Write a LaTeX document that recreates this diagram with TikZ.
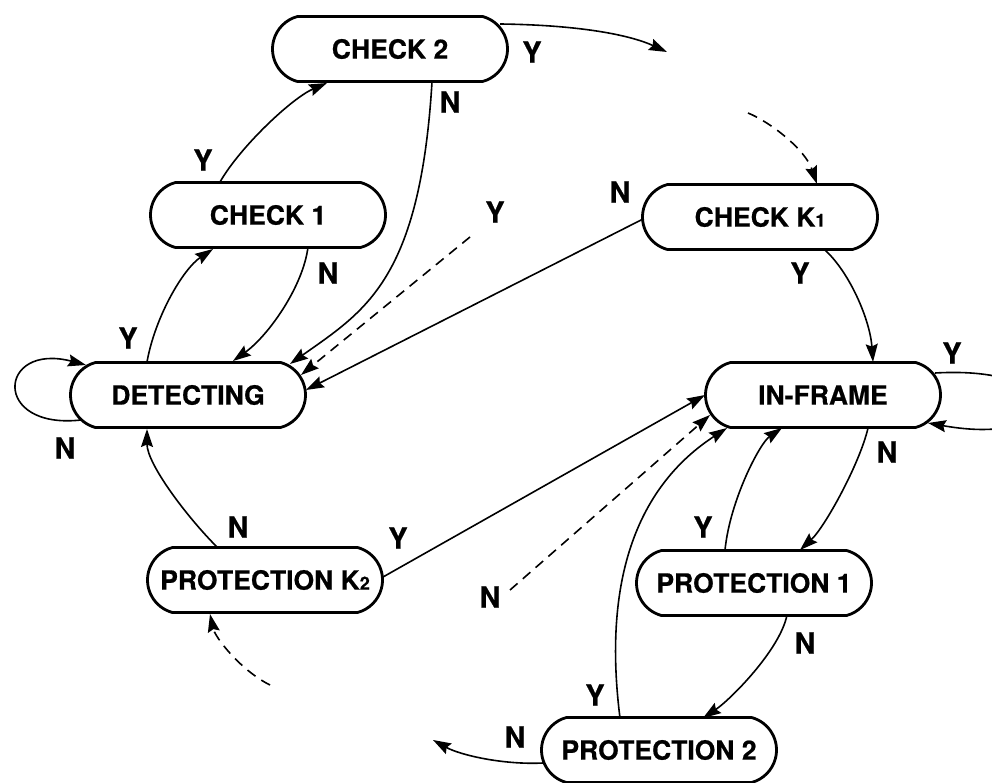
\documentclass[tikz,border=0pt]{standalone}
\usepackage{fontspec}
\setmainfont{TeX Gyre Heros}[BoldFeatures={FakeBold=0.6}]
\usetikzlibrary{shapes.misc,arrows.meta,calc}
\newcommand\smalldig[1]{{\fontsize{18}{18}\selectfont #1}}
\begin{document}
\begin{tikzpicture}[x=1pt,y=-1pt,
  state/.style={rounded rectangle, rounded rectangle arc length=150, draw, line width=2.8pt,
    minimum width=235pt, minimum height=65pt, inner sep=0pt,
    font=\fontsize{26.5}{30}\selectfont\bfseries},
  lab/.style={font=\fontsize{29}{32}\selectfont\bfseries, inner sep=0pt},
  edge/.style={line width=1.6pt, -{Stealth[length=18pt,width=12pt,inset=2.5pt]}},
  dsh/.style={edge, dash pattern=on 10pt off 7pt}]
\useasboundingbox (0,0) rectangle (992,783);
\clip (0,0) rectangle (992,783);

% states
\node[state] (c2)  at (390,49)  {CHECK 2};
\node[state] (c1)  at (268,215) {CHECK 1};
\node[state] (det) at (188,395) {DETECTING};
\node[state] (ck1) at (760,217) {CHECK K\smalldig{1}};
\node[state] (inf) at (823,395) {IN-FRAME};
\node[state] (pk2) at (265,580) {PROTECTION K\smalldig{2}};
\node[state] (p1)  at (754,583) {PROTECTION 1};
\node[state] (p2)  at (659,750) {PROTECTION 2};

% free ends
\coordinate (o1) at (667,52);
\coordinate (d1) at (748,113);
\coordinate (d2) at (470,237);
\coordinate (d3) at (270,685);
\coordinate (d4) at (510,590);
\coordinate (o2) at (433,740);

% connectors
\draw[edge] ($(c1)+(-48,-33)$) .. controls +(20,-35) and +(-35,15) .. ($(c2)+(-63,34)$);
\draw[edge] ($(c2)+(42,33)$) .. controls +(-12,198) and +(75,-53) .. ($(det)+(102,-31)$);
\draw[edge] ($(c2)+(110,-25)$) .. controls +(80,1) and +(-37,-17) .. (o1);
\draw[dsh] (d1) .. controls +(22,9) and +(-12,-35) .. ($(ck1)+(57,-33)$);
\draw[edge] ($(c1)+(40,32)$) .. controls +(-5,40) and +(35,-25) .. ($(det)+(45,-34)$);
\draw[edge] ($(det)+(-41,-33)$) .. controls +(8,-45) and +(-30,20) .. ($(c1)+(-55,34)$);
\draw[dsh] (d2) -- ($(det)+(113,-20)$);
\draw[edge] ($(ck1)+(-117,2)$) -- ($(det)+(118,-5)$);
\draw[edge] ($(det)+(-107,25)$) .. controls +(-90,10) and +(-88,-23) .. ($(det)+(-102,-30)$);
\draw[edge] ($(pk2)+(-48,-33)$) .. controls +(-30,-30) and +(0,35) .. ($(det)+(-41,34)$);
\draw[dsh] (d3) .. controls +(-30,-15) and +(5,23) .. ($(pk2)+(-55,34)$);
\draw[edge] ($(pk2)+(118,-3)$) -- ($(inf)+(-118,0)$);
\draw[dsh] (d4) -- ($(inf)+(-113,20)$);
\draw[edge] ($(ck1)+(65,33)$) .. controls +(25,23) and +(-3,-42) .. ($(inf)+(50,-33)$);
\draw[edge] ($(inf)+(112,-22)$) .. controls +(140,-8) and +(140,25) .. ($(inf)+(105,28)$);
\draw[edge] ($(inf)+(45,33)$) .. controls +(-8,35) and +(25,-23) .. ($(p1)+(46,-33)$);
\draw[edge] ($(p1)+(-29,-33)$) .. controls +(5,-50) and +(-22,15) .. ($(inf)+(-41,33)$);
\draw[edge] ($(p1)+(33,32)$) .. controls +(-7,35) and +(27,-18) .. ($(p2)+(44,-32)$);
\draw[edge] ($(p2)+(-39,-32)$) .. controls +(-20,-158) and +(-77,50) .. ($(inf)+(-96,33)$);
\draw[edge] ($(p2)+(-116,13)$) .. controls +(-40,2) and +(27,15) .. (o2);

% labels
\node[lab] (y1)  at (532,52)  {Y};
\node[lab] (n1)  at (450,102) {N};
\node[lab] (y2)  at (203,160) {Y};
\node[lab] (n2)  at (328,273) {N};
\node[lab] (y3)  at (495,212) {Y};
\node[lab] (n3)  at (620,192) {N};
\node[lab] (y4)  at (128,338) {Y};
\node[lab] (n4)  at (65,448)  {N};
\node[lab] (y5)  at (800,273) {Y};
\node[lab] (y6)  at (952,353) {Y};
\node[lab] (n5)  at (887,452) {N};
\node[lab] (n6)  at (238,527) {N};
\node[lab] (y7)  at (398,538) {Y};
\node[lab] (n7)  at (490,597) {N};
\node[lab] (y8)  at (703,527) {Y};
\node[lab] (n8)  at (805,643) {N};
\node[lab] (y9)  at (595,695) {Y};
\node[lab] (n9)  at (515,737) {N};
\end{tikzpicture}
\end{document}
